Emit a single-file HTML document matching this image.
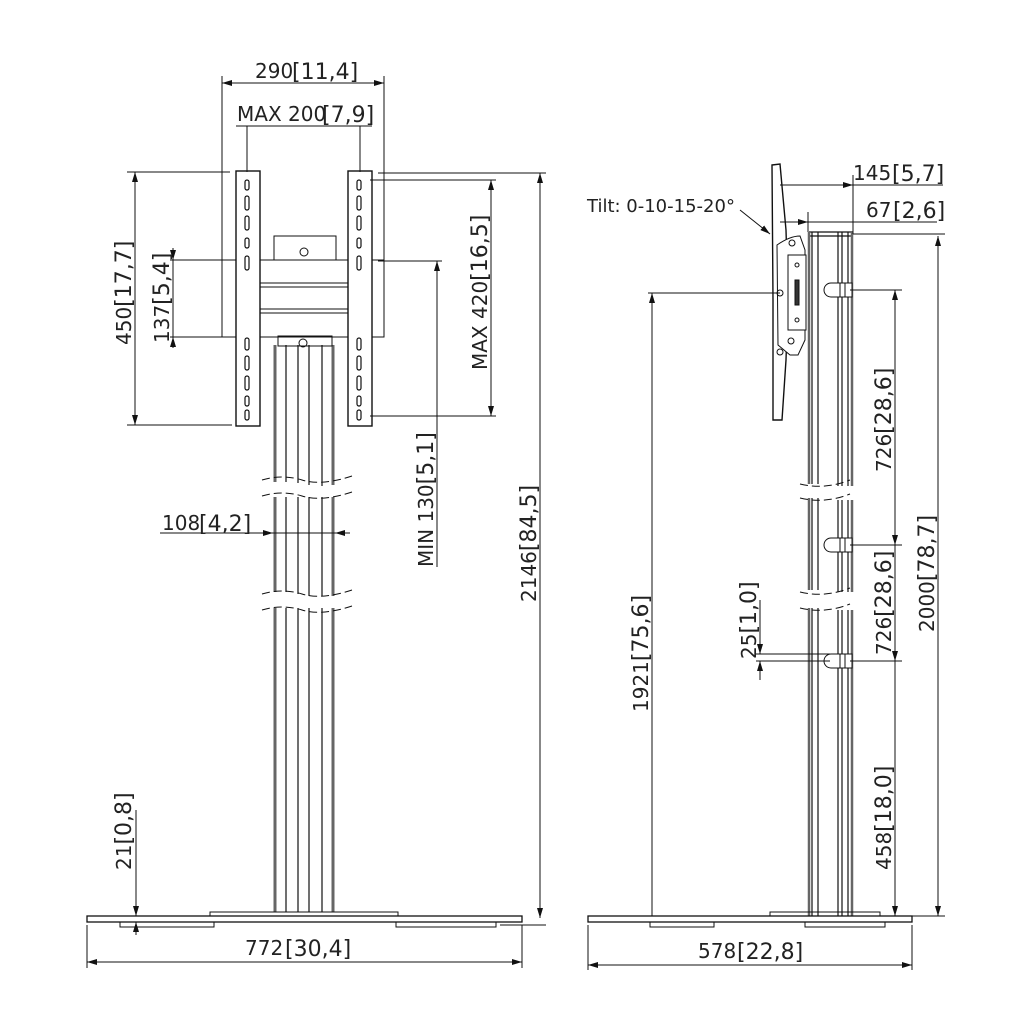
<!DOCTYPE html>
<html><head><meta charset="utf-8"><style>
html,body{margin:0;padding:0;background:#fff;width:1024px;height:1024px;overflow:hidden}
svg text{font-family:"DejaVu Sans","Liberation Sans",sans-serif;fill:#222}
</style></head><body>
<svg width="1024" height="1024" viewBox="0 0 1024 1024" xmlns="http://www.w3.org/2000/svg">
<defs>
<marker id="a" viewBox="0 0 10 6" refX="10" refY="3" markerWidth="10" markerHeight="6" orient="auto-start-reverse" markerUnits="userSpaceOnUse"><path d="M0,0L10,3L0,6z" fill="#111"/></marker>
</defs>
<g stroke="#111" fill="none" stroke-width="1">
<!-- FRONT: column segments -->
<g stroke-width="1.2">
<path d="M286 345V482M309 345V485M298 345V483M322 345V486" />
<path d="M286 497V592M309 497V596M298 497V594M322 497V596"/>
<path d="M286 608V912M309 608V912M298 608V912M322 608V912"/>
</g>
<g stroke="#666" stroke-width="3">
<path d="M275 345V482M275 497V592M275 608V912M333 345V485M333 497V596M333 608V912"/>
</g>
<path d="M262 480q20-6 40 0t50-4M262 496q20-6 40 0t50-4M262 594q20-6 40 0t50-4M262 610q20-6 40 0t50-4" stroke-dasharray="8 4"/>
<!-- top boxes -->
<rect x="274" y="236" width="62" height="24"/>
<rect x="278" y="336" width="54" height="10"/>
<circle cx="304" cy="252" r="4"/><circle cx="303" cy="343" r="4"/>
<!-- horizontal bracket -->
<rect x="222" y="260" width="162" height="77"/>
<path d="M260 283H350M260 287H350M260 309H350M260 313H350"/>
<!-- vertical plates -->
<rect x="236" y="171" width="24" height="255" fill="#fff" stroke-width="1.4"/>
<rect x="348" y="171" width="24" height="255" fill="#fff" stroke-width="1.4"/>
<g stroke-width="1.2">
<g id="slots">
<rect x="245" y="180" width="4" height="10" rx="2"/><rect x="245" y="196" width="4" height="14" rx="2"/><rect x="245" y="216" width="4" height="14" rx="2"/><rect x="245" y="238" width="4" height="10" rx="2"/><rect x="245" y="256" width="4" height="14" rx="2"/>
<rect x="245" y="338" width="4" height="12" rx="2"/><rect x="245" y="356" width="4" height="14" rx="2"/><rect x="245" y="376" width="4" height="14" rx="2"/><rect x="245" y="396" width="4" height="10" rx="2"/><rect x="245" y="410" width="4" height="10" rx="2"/>
</g>
<use href="#slots" x="112"/>
</g>
<!-- base -->
<rect x="87" y="916" width="435" height="6" stroke-width="1.3"/>
<rect x="210" y="912" width="188" height="4"/>
<rect x="120" y="922" width="94" height="5"/><rect x="396" y="922" width="100" height="5"/>
<!-- FRONT dims -->
<path d="M222 83H384" marker-start="url(#a)" marker-end="url(#a)"/>
<path d="M222 76V260M384 76V260"/>
<path d="M236 126H372"/>
<path d="M247 126V172M360 126V172"/>
<path d="M135 172V425" marker-start="url(#a)" marker-end="url(#a)"/>
<path d="M127 172H230M127 425H232"/>
<path d="M173 248V260" marker-end="url(#a)"/><path d="M173 348V337" marker-end="url(#a)"/><path d="M173 260V337"/>
<path d="M170 260H236M170 337H236"/>
<path d="M491 180V416" marker-start="url(#a)" marker-end="url(#a)"/>
<path d="M370 180H496M370 416H496"/>
<path d="M437 261V567" marker-start="url(#a)"/>
<path d="M378 261H442"/>
<path d="M540 173V918" marker-start="url(#a)" marker-end="url(#a)"/>
<path d="M378 173H546M500 925H546"/>
<path d="M160 533H273" marker-end="url(#a)"/><path d="M350 533H335" marker-end="url(#a)"/><path d="M273 533H335"/>
<path d="M136 810V916" marker-end="url(#a)"/><path d="M136 935V922" marker-end="url(#a)"/>
<path d="M87 962H522" marker-start="url(#a)" marker-end="url(#a)"/>
<path d="M87 925V968M522 925V968"/>

<!-- SIDE: column -->
<g stroke-width="1.2">
<path d="M812 232V484M818 232V484M848 232V486M842 232V486M838 232V486"/>
<path d="M812 498V590M818 498V590M848 500V592M842 500V592M838 500V592"/>
<path d="M812 608V916M818 608V916M848 610V916M842 610V916M838 610V916"/>
<path d="M809 232H853M809 236H853"/>
</g>
<g stroke="#666" stroke-width="2.5">
<path d="M809 232V484M809 498V590M809 608V916M852 232V486M852 500V592M852 610V916"/>
</g>
<path d="M800 484q25 6 50-4M800 498q25 6 50-4M800 592q25 6 50-4M800 608q25 6 50-4" stroke-dasharray="8 4"/>
<!-- hooks -->
<path d="M840 283h-9a7 7 0 0 0 0 14h9zM840 283h12v14h-12M845 283v14" fill="#fff"/>
<path d="M840 538h-9a7 7 0 0 0 0 14h9zM840 538h12v14h-12M845 538v14" fill="#fff"/>
<path d="M840 654h-9a7 7 0 0 0 0 14h9zM840 654h12v14h-12M845 654v14" fill="#fff"/>
<!-- screen plate -->
<path d="M772 165L780 164L786 230L788 298L786 360L782 420L773 420L773 300Z" stroke-width="1.4" fill="#fff"/>
<path d="M777 245Q790 236 800 236L805 250L805 340L798 355L790 355L778 345Z" fill="#fff"/>
<path d="M788 255h18v75h-18z" fill="#fff"/>
<circle cx="792" cy="243" r="3"/><circle cx="780" cy="293" r="3"/><circle cx="791" cy="341" r="3"/><circle cx="780" cy="352" r="3"/>
<circle cx="797" cy="265" r="2"/><circle cx="797" cy="320" r="2"/>
<path d="M795 280h4v25h-4z" fill="#333"/>
<!-- side base -->
<rect x="588" y="916" width="324" height="6" stroke-width="1.3"/>
<rect x="770" y="912" width="110" height="4"/>
<rect x="650" y="922" width="64" height="5"/><rect x="805" y="922" width="80" height="5"/>
<!-- side dims -->
<path d="M780 185H853" marker-end="url(#a)"/><path d="M853 185H943M853 175V234"/>
<path d="M780 222H808" marker-end="url(#a)"/><path d="M808 222H937M808 212V232"/>
<path d="M938 236V916" marker-start="url(#a)" marker-end="url(#a)"/>
<path d="M853 234H945M880 916H945"/>
<path d="M895 290V545" marker-start="url(#a)" marker-end="url(#a)"/>
<path d="M895 545V661" marker-end="url(#a)"/>
<path d="M895 661V916" marker-end="url(#a)"/>
<path d="M850 290H902M850 545H902M850 661H902"/>
<path d="M652 293V916" marker-start="url(#a)"/>
<path d="M648 293H780"/>
<path d="M760 600V654" marker-end="url(#a)"/><path d="M760 680V661" marker-end="url(#a)"/>
<path d="M756 654H830M756 661H830"/>
<path d="M588 965H912" marker-start="url(#a)" marker-end="url(#a)"/>
<path d="M588 925V970M912 925V970"/>
<path d="M740 210L770 234" marker-end="url(#a)"/>
</g>
<g font-size="20">
<text x="255" y="78">290</text><text x="292" y="79" font-size="22">[11,4]</text>
<text x="237" y="121">MAX 200</text><text x="322" y="122" font-size="22">[7,9]</text>
<text x="162" y="530">108</text><text x="199" y="531" font-size="22">[4,2]</text>
<text x="245" y="955">772</text><text x="285" y="956" font-size="22">[30,4]</text>
<text transform="translate(131,345) rotate(-90)">450<tspan font-size="22">[17,7]</tspan></text>
<text transform="translate(169,343) rotate(-90)">137<tspan font-size="22">[5,4]</tspan></text>
<text transform="translate(487,370) rotate(-90)">MAX 420<tspan font-size="22">[16,5]</tspan></text>
<text transform="translate(433,567) rotate(-90)">MIN 130<tspan font-size="22">[5,1]</tspan></text>
<text transform="translate(536,602) rotate(-90)">2146<tspan font-size="22">[84,5]</tspan></text>
<text transform="translate(131,870) rotate(-90)">21<tspan font-size="22">[0,8]</tspan></text>
<text x="853" y="180">145</text><text x="892" y="181" font-size="22">[5,7]</text>
<text x="866" y="217">67</text><text x="893" y="218" font-size="22">[2,6]</text>
<text x="587" y="212" font-size="18">Tilt: 0-10-15-20°</text>
<text x="698" y="958">578</text><text x="737" y="959" font-size="22">[22,8]</text>
<text transform="translate(891,472) rotate(-90)">726<tspan font-size="22">[28,6]</tspan></text>
<text transform="translate(891,655) rotate(-90)">726<tspan font-size="22">[28,6]</tspan></text>
<text transform="translate(891,870) rotate(-90)">458<tspan font-size="22">[18,0]</tspan></text>
<text transform="translate(934,632) rotate(-90)">2000<tspan font-size="22">[78,7]</tspan></text>
<text transform="translate(648,712) rotate(-90)">1921<tspan font-size="22">[75,6]</tspan></text>
<text transform="translate(756,659) rotate(-90)">25<tspan font-size="22">[1,0]</tspan></text>
</g>
</svg>
</body></html>
